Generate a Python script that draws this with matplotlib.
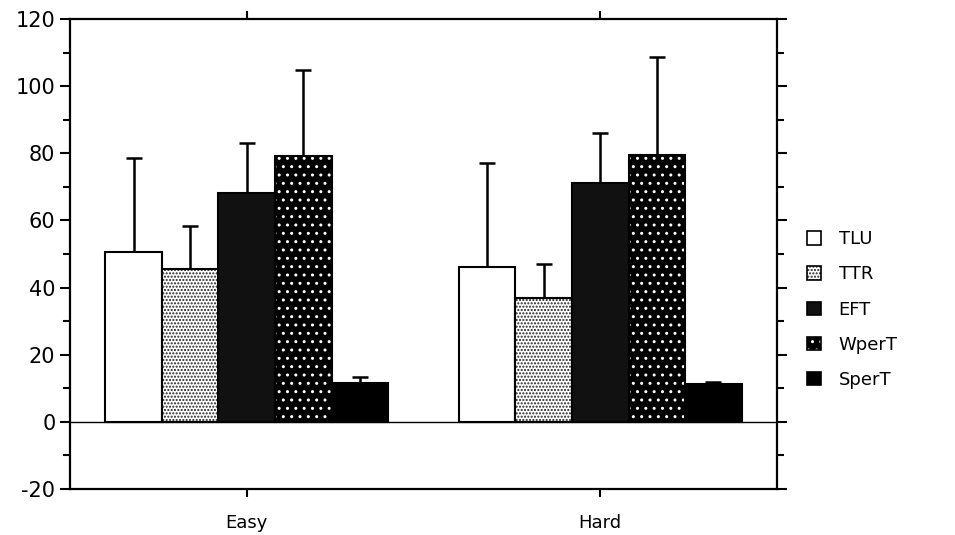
import numpy as np
import matplotlib
matplotlib.use("Agg")
import matplotlib.pyplot as plt
from matplotlib.patches import Patch

plt.rcParams['font.family'] = ['DejaVu Sans']
plt.rcParams['axes.unicode_minus'] = False

# data
groups = ["Easy", "Hard"]
measures = ["TLU", "TTR", "EFT", "WperT", "SperT"]
means = {
    "TLU":   [50.5, 46.2],
    "TTR":   [45.5, 36.8],
    "EFT":   [68.3, 71.2],
    "WperT": [79.3, 79.5],
    "SperT": [11.7, 11.4],
}
tops = {  # top of the error bar
    "TLU":   [78.6, 77.1],
    "TTR":   [58.4, 46.9],
    "EFT":   [83.1, 86.0],
    "WperT": [104.8, 108.8],
    "SperT": [13.5, 12.0],
}

# fill styles: face, hatch, hatch colour
styles = {
    "TLU":   ("white", None, "black"),
    "TTR":   ("white", ".....", "#222222"),
    "EFT":   ("#111111", None, "black"),
    "WperT": ("black", "..", "white"),
    "SperT": ("black", None, "black"),
}

fig = plt.figure(figsize=(9.55, 5.35), dpi=100)
ax = fig.add_axes([0.0733, 0.086, 0.7403, 0.8785])

x = np.arange(len(groups))
w = 0.16
handles = []
for i, m in enumerate(measures):
    pos = x + (i - 2) * w
    face, hatch, hcol = styles[m]
    ax.bar(pos, means[m], w, color=face, edgecolor=hcol, hatch=hatch,
           linewidth=0, zorder=2)
    ax.bar(pos, means[m], w, fill=False, edgecolor="black", linewidth=1.5,
           zorder=3)
    err = np.array(tops[m]) - np.array(means[m])
    ax.errorbar(pos, means[m], yerr=[np.zeros(len(err)), err], fmt="none",
                ecolor="black", elinewidth=1.8, capsize=6, capthick=1.8,
                zorder=1)
    # legend key: filled patch + outline on top
    handles.append((Patch(facecolor=face, edgecolor=hcol, hatch=hatch,
                          linewidth=0),
                    Patch(fill=False, edgecolor="black", linewidth=1.2)))

ax.axhline(0, color="black", linewidth=1.0, zorder=4)

ax.set_xlim(-0.5, 1.5)
ax.set_ylim(-20, 120)
ax.set_yticks(np.arange(-20, 121, 20))
ax.set_yticks(np.arange(-10, 120, 20), minor=True)
ax.set_xticks(x)
ax.set_xticklabels(groups, fontsize=13)
ax.tick_params(axis="y", labelsize=15, direction="out", length=7, width=1.5,
               right=True, which="major")
ax.tick_params(axis="y", which="minor", direction="out", length=5,
               width=1.5, right=True)
ax.tick_params(axis="x", direction="out", length=6, width=1.5, top=True,
               pad=12)
for s in ax.spines.values():
    s.set_linewidth(1.6)

fig.legend(handles=handles, labels=measures, loc="upper left",
           bbox_to_anchor=(0.828, 0.60), frameon=False, fontsize=13,
           handlelength=0.75, handleheight=0.75, labelspacing=0.95,
           handletextpad=1.0)

fig.savefig("out.png", dpi=100)
